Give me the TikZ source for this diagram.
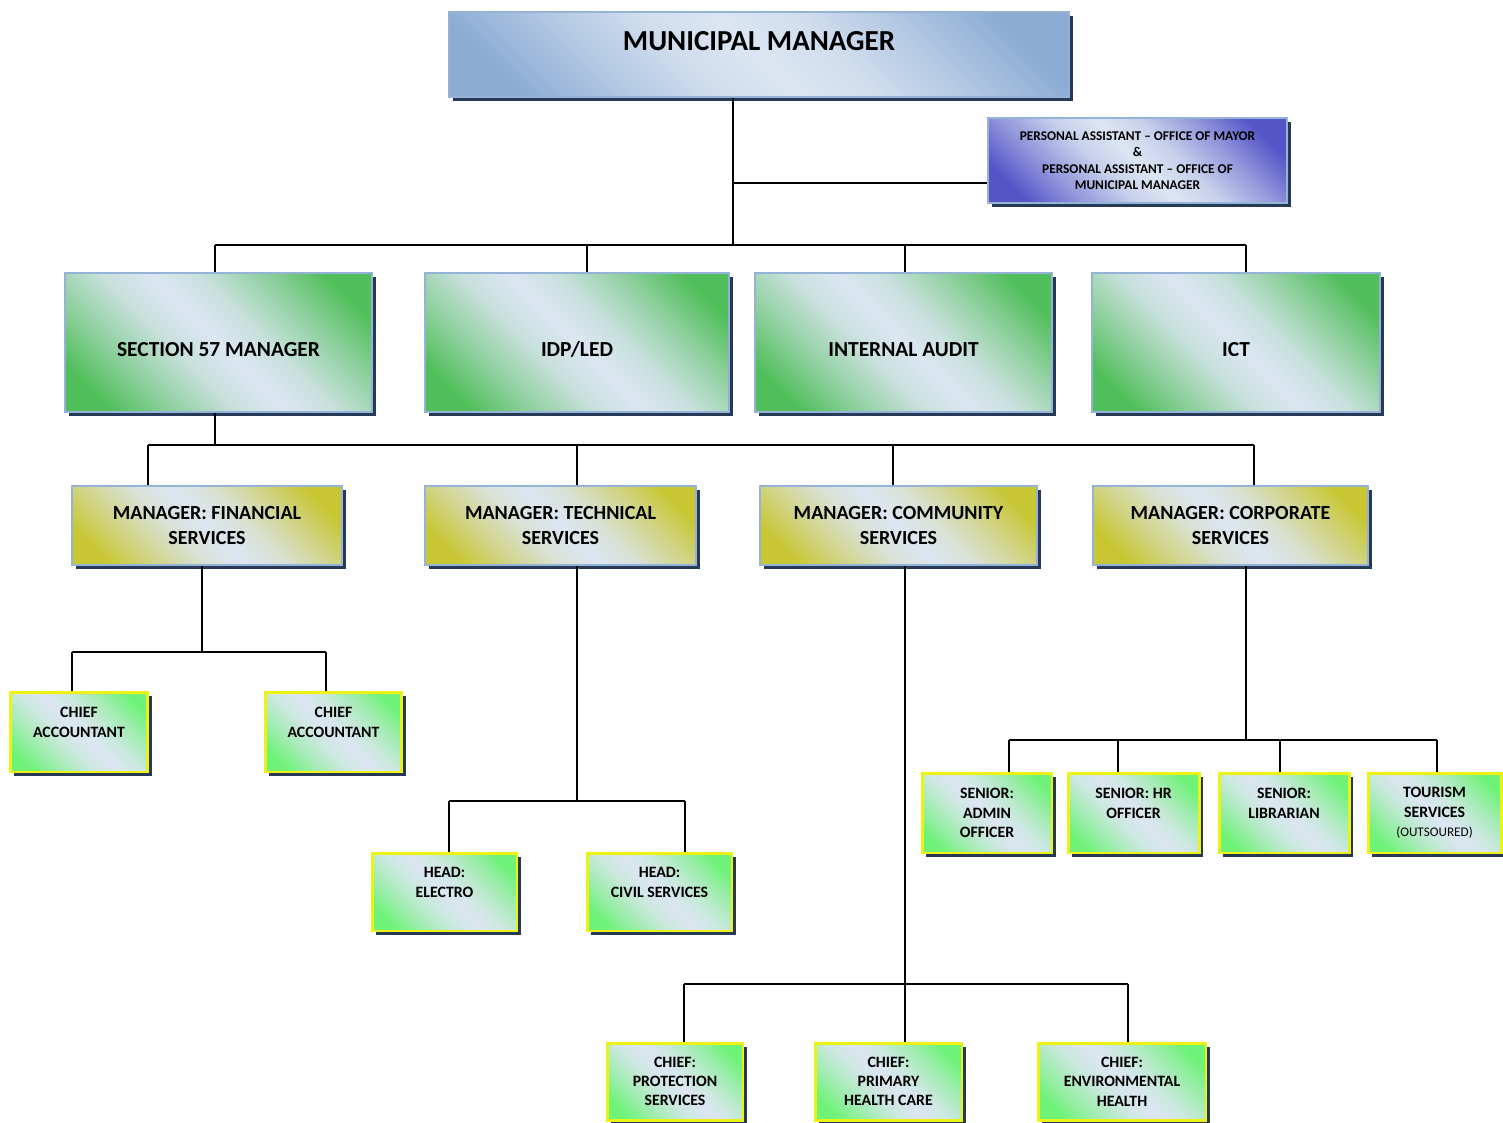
\documentclass[tikz,border=0pt]{standalone}
\usepackage{fontspec}
\setmainfont{Carlito}
\usetikzlibrary{positioning, shadows}

\definecolor{shadownavy}{RGB}{38,58,88}
\definecolor{edgeblue}{RGB}{149,179,215}
\definecolor{paleblue}{RGB}{220,230,242}
\definecolor{mmblue}{RGB}{140,172,212}
\definecolor{pablue}{RGB}{85,85,200}
\definecolor{unitgreen}{RGB}{80,190,90}
\definecolor{mgrolive}{RGB}{200,198,50}
\definecolor{leafgreen}{RGB}{110,242,120}
\definecolor{leafedge}{RGB}{238,242,20}

% corner fades: colour at two opposite corners, pale band in between
\pgfdeclarehorizontalshading{mmfade}{100bp}{color(0bp)=(mmblue); color(22bp)=(mmblue);
  color(32bp)=(mmblue!55!paleblue); color(42bp)=(mmblue!15!paleblue); color(50bp)=(paleblue);
  color(58bp)=(mmblue!15!paleblue); color(68bp)=(mmblue!55!paleblue); color(78bp)=(mmblue); color(100bp)=(mmblue)}
\pgfdeclarehorizontalshading{pafade}{100bp}{color(0bp)=(pablue); color(22bp)=(pablue);
  color(32bp)=(pablue!55!paleblue); color(42bp)=(pablue!15!paleblue); color(50bp)=(paleblue);
  color(58bp)=(pablue!15!paleblue); color(68bp)=(pablue!55!paleblue); color(78bp)=(pablue); color(100bp)=(pablue)}
\pgfdeclarehorizontalshading{unitfade}{100bp}{color(0bp)=(unitgreen); color(22bp)=(unitgreen);
  color(32bp)=(unitgreen!55!paleblue); color(42bp)=(unitgreen!15!paleblue); color(50bp)=(paleblue);
  color(58bp)=(unitgreen!15!paleblue); color(68bp)=(unitgreen!55!paleblue); color(78bp)=(unitgreen); color(100bp)=(unitgreen)}
\pgfdeclarehorizontalshading{mgrfade}{100bp}{color(0bp)=(mgrolive); color(22bp)=(mgrolive);
  color(32bp)=(mgrolive!55!paleblue); color(42bp)=(mgrolive!15!paleblue); color(50bp)=(paleblue);
  color(58bp)=(mgrolive!15!paleblue); color(68bp)=(mgrolive!55!paleblue); color(78bp)=(mgrolive); color(100bp)=(mgrolive)}
\pgfdeclarehorizontalshading{leaffade}{100bp}{color(0bp)=(leafgreen); color(22bp)=(leafgreen);
  color(32bp)=(leafgreen!55!paleblue); color(42bp)=(leafgreen!15!paleblue); color(50bp)=(paleblue);
  color(58bp)=(leafgreen!15!paleblue); color(68bp)=(leafgreen!55!paleblue); color(78bp)=(leafgreen); color(100bp)=(leafgreen)}

\begin{document}
\begin{tikzpicture}[
    x = 0.02cm, y = -0.02cm,
    basebox/.style = {
      rectangle, draw = edgeblue, line width = 1.1pt,
      align = center, inner sep = 0pt, shade, shading angle = 45,
      drop shadow = {shadow xshift = 0.08cm, shadow yshift = -0.08cm,
                     fill = shadownavy, opacity = 1}
    },
    mmbox/.style = {
      basebox, shading = mmfade,
      minimum width = 12.4cm, minimum height = 1.7cm,
      text height = 0.76cm, text depth = 0.94cm,
      font = \fontsize{16.5}{20}\selectfont\bfseries
    },
    pabox/.style = {
      basebox, shading = pafade,
      minimum width = 5.98cm, minimum height = 1.7cm,
      font = \fontsize{7.6}{9.4}\selectfont\bfseries
    },
    unitbox/.style = {
      basebox, shading = unitfade,
      minimum height = 2.78cm,
      text height = 1.67cm, text depth = 1.11cm,
      font = \fontsize{12.2}{15}\selectfont\bfseries
    },
    mgrbox/.style = {
      basebox, shading = mgrfade,
      minimum height = 1.58cm,
      font = \fontsize{11.4}{14.2}\selectfont\bfseries
    },
    leafbox/.style = {
      basebox, shading = leaffade, draw = leafedge, line width = 1.7pt,
      minimum height = 1.58cm,
      font = \fontsize{9}{11}\selectfont\bfseries
    },
    conn/.style = {line width = 0.8pt, black}
  ]

  \fill[white] (0,0) rectangle (1503,1122);
  \useasboundingbox (0,0) rectangle (1503,1122);

  % Top of the hierarchy
  \node[mmbox] (mm) at (759,54.5) {MUNICIPAL MANAGER};
  \node[pabox] (pa) at (1137.5,160.5)
    {PERSONAL ASSISTANT – OFFICE OF MAYOR\\\&\\PERSONAL ASSISTANT – OFFICE OF\\MUNICIPAL MANAGER};

  % Units reporting to the municipal manager
  \node[unitbox, minimum width = 6.14cm] (s57)   at (218.5,342.5) {SECTION 57 MANAGER};
  \node[unitbox, minimum width = 6.08cm] (idp)   at (577,342.5)   {IDP/LED};
  \node[unitbox, minimum width = 5.94cm] (audit) at (903.5,342.5) {INTERNAL AUDIT};
  \node[unitbox, minimum width = 5.76cm] (ict)   at (1236,342.5)  {ICT};

  % Managers
  \node[mgrbox, minimum width = 5.4cm]  (fin)  at (207,525.5)    {MANAGER: FINANCIAL\\SERVICES};
  \node[mgrbox, minimum width = 5.42cm] (tech) at (560.5,525.5)  {MANAGER: TECHNICAL\\SERVICES};
  \node[mgrbox, minimum width = 5.54cm] (comm) at (898.5,525.5)  {MANAGER: COMMUNITY\\SERVICES};
  \node[mgrbox, minimum width = 5.5cm]  (corp) at (1230.5,525.5) {MANAGER: CORPORATE\\SERVICES};

  % Financial services
  \node[leafbox, minimum width = 2.76cm, minimum height = 1.6cm] (acc1) at (79,732)    {CHIEF\\ACCOUNTANT\\\mbox{}};
  \node[leafbox, minimum width = 2.74cm, minimum height = 1.6cm] (acc2) at (333.5,732) {CHIEF\\ACCOUNTANT\\\mbox{}};

  % Technical services
  \node[leafbox, minimum width = 2.9cm, minimum height = 1.56cm] (elec)  at (444.5,892) {HEAD:\\ELECTRO\\\mbox{}};
  \node[leafbox, minimum width = 2.9cm, minimum height = 1.56cm] (civil) at (659.5,892) {HEAD:\\CIVIL SERVICES\\\mbox{}};

  % Corporate services
  \node[leafbox, minimum width = 2.6cm,  minimum height = 1.6cm] (admin) at (987,813)    {SENIOR:\\ADMIN\\OFFICER};
  \node[leafbox, minimum width = 2.62cm, minimum height = 1.6cm] (hr)    at (1133.5,813) {SENIOR: HR\\OFFICER\\\mbox{}};
  \node[leafbox, minimum width = 2.6cm,  minimum height = 1.6cm] (lib)   at (1284,813)   {SENIOR:\\LIBRARIAN\\\mbox{}};
  \node[leafbox, minimum width = 2.66cm, minimum height = 1.6cm] (tour)  at (1434.5,813)
    {TOURISM\\SERVICES\\{\fontsize{7.5}{11}\selectfont\mdseries (OUTSOURED)}};

  % Community services
  \node[leafbox, minimum width = 2.72cm, minimum height = 1.54cm] (prot) at (675,1081.5)  {CHIEF:\\PROTECTION\\SERVICES};
  \node[leafbox, minimum width = 2.94cm, minimum height = 1.54cm] (prim) at (888.5,1081.5) {CHIEF:\\PRIMARY\\HEALTH CARE};
  \node[leafbox, minimum width = 3.36cm, minimum height = 1.54cm] (env)  at (1122,1081.5)  {CHIEF:\\ENVIRONMENTAL\\HEALTH};

  % Junctions and drop points
  \coordinate (j0)  at (733,245);
  \coordinate (jpa) at (733,183);
  \coordinate (d1a) at (215,245);
  \coordinate (d1b) at (587,245);
  \coordinate (d1c) at (905,245);
  \coordinate (d1d) at (1246,245);

  \coordinate (j2)  at (215,445);
  \coordinate (d2a) at (148,445);
  \coordinate (d2b) at (577,445);
  \coordinate (d2c) at (893,445);
  \coordinate (d2d) at (1254,445);

  \coordinate (jf)  at (202,652);
  \coordinate (dfa) at (72,652);
  \coordinate (dfb) at (326,652);

  \coordinate (jt)  at (577,801);
  \coordinate (dta) at (449,801);
  \coordinate (dtb) at (685,801);

  \coordinate (jc)  at (905,984);
  \coordinate (dca) at (684,984);
  \coordinate (dcb) at (905,984);
  \coordinate (dcc) at (1128,984);

  \coordinate (jk)  at (1246,740);
  \coordinate (dka) at (1009,740);
  \coordinate (dkb) at (1118,740);
  \coordinate (dkc) at (1280,740);
  \coordinate (dkd) at (1437,740);

  % Connections: municipal manager
  \draw[conn] (mm.south -| j0) -- (j0);
  \draw[conn] (jpa) -- (pa.west |- jpa);
  \draw[conn] (d1a) -- (d1d);
  \draw[conn] (d1a) -- (d1a |- s57.north);
  \draw[conn] (d1b) -- (d1b |- idp.north);
  \draw[conn] (d1c) -- (d1c |- audit.north);
  \draw[conn] (d1d) -- (d1d |- ict.north);

  % Connections: section 57 manager
  \draw[conn] (s57.south -| j2) -- (j2);
  \draw[conn] (d2a) -- (d2d);
  \draw[conn] (d2a) -- (d2a |- fin.north);
  \draw[conn] (d2b) -- (d2b |- tech.north);
  \draw[conn] (d2c) -- (d2c |- comm.north);
  \draw[conn] (d2d) -- (d2d |- corp.north);

  % Connections: financial services
  \draw[conn] (fin.south -| jf) -- (jf);
  \draw[conn] (dfa) -- (dfb);
  \draw[conn] (dfa) -- (dfa |- acc1.north);
  \draw[conn] (dfb) -- (dfb |- acc2.north);

  % Connections: technical services
  \draw[conn] (tech.south -| jt) -- (jt);
  \draw[conn] (dta) -- (dtb);
  \draw[conn] (dta) -- (dta |- elec.north);
  \draw[conn] (dtb) -- (dtb |- civil.north);

  % Connections: community services
  \draw[conn] (comm.south -| jc) -- (jc);
  \draw[conn] (dca) -- (dcc);
  \draw[conn] (dca) -- (dca |- prot.north);
  \draw[conn] (dcb) -- (dcb |- prim.north);
  \draw[conn] (dcc) -- (dcc |- env.north);

  % Connections: corporate services
  \draw[conn] (corp.south -| jk) -- (jk);
  \draw[conn] (dka) -- (dkd);
  \draw[conn] (dka) -- (dka |- admin.north);
  \draw[conn] (dkb) -- (dkb |- hr.north);
  \draw[conn] (dkc) -- (dkc |- lib.north);
  \draw[conn] (dkd) -- (dkd |- tour.north);

\end{tikzpicture}
\end{document}
